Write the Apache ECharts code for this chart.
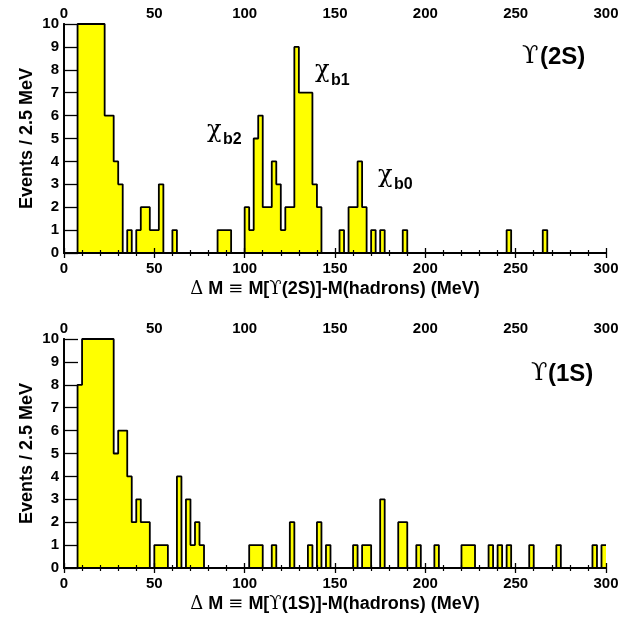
<!DOCTYPE html>
<html>
<head>
<meta charset="utf-8">
<script src="https://cdn.jsdelivr.net/npm/echarts@6/dist/echarts.min.js"></script>
<style>
  html, body { margin: 0; padding: 0; background: #fff; }
  #grafica { width: 636px; height: 618px; }
</style>
</head>
<body>
<div id="grafica"></div>
<script>
// histogramas de 2.5 MeV, solo los bins con cuentas (inicio del bin en MeV)
var ups2BinStart = [7.5, 10, 12.5, 15, 17.5, 20, 22.5, 25, 27.5, 30, 35, 40, 42.5, 45, 47.5, 50, 52.5, 60,
    85, 87.5, 90, 100, 102.5, 105, 107.5, 110, 112.5, 115, 117.5, 120, 122.5, 125, 127.5, 130, 132.5, 135,
    137.5, 140, 152.5, 157.5, 160, 162.5, 165, 170, 175, 187.5, 245, 265];
var ups2Count = [10, 10, 10, 10, 10, 10, 6, 6, 4, 3, 1, 1, 2, 2, 1, 1, 3, 1,
    1, 1, 1, 2, 1, 5, 6, 2, 2, 4, 3, 1, 2, 2, 9, 7, 7, 7,
    3, 2, 1, 2, 2, 4, 2, 1, 1, 1, 1, 1];

var ups1BinStart = [7.5, 10, 12.5, 15, 17.5, 20, 22.5, 25, 27.5, 30, 32.5, 35, 37.5, 40, 42.5, 45, 50, 52.5, 55,
    62.5, 67.5, 70, 72.5, 75, 102.5, 105, 107.5, 115, 125, 135, 140, 145, 160, 165, 167.5, 175, 185, 187.5,
    195, 205, 220, 222.5, 225, 235, 240, 245, 257.5, 272.5, 292.5, 297.5];
var ups1Count = [8, 10, 10, 10, 10, 10, 10, 10, 5, 6, 6, 4, 2, 3, 2, 2, 1, 1, 1,
    4, 3, 1, 2, 1, 1, 1, 1, 1, 2, 1, 2, 1, 1, 1, 1, 3, 2, 2,
    1, 1, 1, 1, 1, 1, 1, 1, 1, 1, 1, 1];

var binWidth = 2.5;
var xMax = 300;
var yMax = 10;

var fuente = 'Liberation Sans, Arial, sans-serif';
var serif = 'DejaVu Serif, Liberation Serif, serif';

// pasa los bins a puntos para una linea escalonada
function puntosHist(starts, counts) {
    var nBins = Math.round(xMax / binWidth);
    var full = [];
    for (var i = 0; i < nBins; i++) full.push(0);
    starts.forEach(function (s, k) {
        full[Math.round(s / binWidth)] = counts[k];
    });
    var pts = [];
    for (var j = 0; j < nBins; j++) pts.push([j * binWidth, full[j]]);
    pts.push([xMax, full[nBins - 1]]);
    return pts;
}

function ejeX(grid, abajo, titulo) {
    return {
        type: 'value', gridIndex: grid, position: abajo ? 'bottom' : 'top',
        min: 0, max: xMax, interval: 50, z: 5,
        axisLine: { lineStyle: { color: '#000', width: 1.8 } },
        axisTick: { inside: true, length: 5, lineStyle: { color: '#000', width: 1.3 } },
        minorTick: { show: true, splitNumber: 5, length: 3, lineStyle: { color: '#000', width: 1.2 } },
        splitLine: { show: false },
        axisLabel: { color: '#000', fontFamily: fuente, fontWeight: 'bold', fontSize: 15, margin: abajo ? 8 : 3 },
        name: titulo || '',
        nameLocation: 'middle', nameGap: 27, nameMoveOverlap: false,
        nameTextStyle: {
            color: '#000', fontFamily: fuente, fontWeight: 'bold', fontSize: 18,
            rich: { s: { color: '#000', fontFamily: serif, fontWeight: 'normal', fontSize: 18 } }
        }
    };
}

function ejeY(grid, izq) {
    return {
        type: 'value', gridIndex: grid, position: izq ? 'left' : 'right',
        min: 0, max: yMax, interval: 1, z: 5,
        axisLine: { show: true, lineStyle: { color: '#000', width: 1.8 } },
        axisTick: { show: izq, inside: true, length: 14, lineStyle: { color: '#000', width: 1.3 } },
        splitLine: { show: false },
        axisLabel: { show: izq, color: '#000', fontFamily: fuente, fontWeight: 'bold', fontSize: 15, margin: 5 },
        name: izq ? 'Events / 2.5 MeV' : '',
        nameLocation: 'middle', nameGap: 28, nameMoveOverlap: false,
        nameTextStyle: { color: '#000', fontFamily: fuente, fontWeight: 'bold', fontSize: 18 }
    };
}

function serieHist(idx, datos) {
    return {
        type: 'line', step: 'end', xAxisIndex: idx * 2, yAxisIndex: idx * 2,
        symbol: 'none', z: 2, silent: true,
        lineStyle: { color: '#000', width: 1.8 },
        areaStyle: { color: '#ffff00', opacity: 1 },
        data: datos
    };
}

function texto(x, y, t, size, fam, peso) {
    return {
        type: 'text', x: x, y: y, z: 10,
        style: { text: t, fill: '#000', fontFamily: fam, fontSize: size, fontWeight: peso || 'normal',
                 align: 'left', verticalAlign: 'middle' }
    };
}

var grafico = echarts.init(document.getElementById('grafica'));

var option = {
    animation: false,
    backgroundColor: '#fff',
    grid: [
        { left: 64, right: 30, top: 24, height: 229 },
        { left: 64, right: 30, top: 339, height: 229 }
    ],
    xAxis: [
        ejeX(0, true, '{s|\u0394} M {s|\u2261} M[{s|\u03D2}(2S)]-M(hadrons) (MeV)'),
        ejeX(0, false),
        ejeX(1, true, '{s|\u0394} M {s|\u2261} M[{s|\u03D2}(1S)]-M(hadrons) (MeV)'),
        ejeX(1, false)
    ],
    yAxis: [ejeY(0, true), ejeY(0, false), ejeY(1, true), ejeY(1, false)],
    series: [
        serieHist(0, puntosHist(ups2BinStart, ups2Count)),
        serieHist(1, puntosHist(ups1BinStart, ups1Count))
    ],
    graphic: [
        texto(207, 131, '\u03C7', 24, serif),
        texto(223, 140, 'b2', 16, fuente, 'bold'),
        texto(315, 71, '\u03C7', 24, serif),
        texto(331, 80.5, 'b1', 16, fuente, 'bold'),
        texto(378, 175.5, '\u03C7', 24, serif),
        texto(394, 184.5, 'b0', 16, fuente, 'bold'),
        texto(522, 57, '\u03D2', 24, serif),
        texto(540, 57, '(2S)', 24, fuente, 'bold'),
        texto(531, 374, '\u03D2', 24, serif),
        texto(548, 374, '(1S)', 24, fuente, 'bold')
    ]
};

option && grafico.setOption(option, true);
</script>
</body>
</html>
